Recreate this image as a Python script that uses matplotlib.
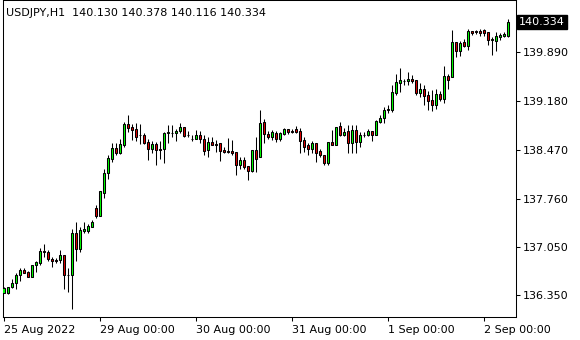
import numpy as np
import matplotlib
matplotlib.use('Agg')
import matplotlib.pyplot as plt

# USDJPY H1 candles, one entry per hourly bar
opens = [136.390, 136.382, 136.469, 136.527, 136.644, 136.721, 136.692, 136.615, 136.789, 136.827,
         136.993, 136.983, 136.885, 136.866, 136.866, 136.935, 136.648, 136.644, 137.255, 137.031,
         137.293, 137.293, 137.351, 137.623, 137.507, 137.846, 138.128, 138.341, 138.497, 138.420,
         138.545, 138.846, 138.798, 138.769, 138.690, 138.690, 138.584, 138.487, 138.555, 138.487,
         138.478, 138.711, 138.711, 138.711, 138.740, 138.798, 138.690, 138.632, 138.632, 138.682,
         138.623, 138.468, 138.584, 138.555, 138.565, 138.468, 138.457, 138.457, 138.439, 138.254,
         138.322, 138.235, 138.166, 138.468, 138.361, 138.875, 138.701, 138.661, 138.719, 138.623,
         138.701, 138.769, 138.749, 138.769, 138.740, 138.613, 138.536, 138.487, 138.574, 138.457,
         138.399, 138.278, 138.584, 138.545, 138.817, 138.690, 138.749, 138.565, 138.759, 138.584,
         138.690, 138.682, 138.740, 138.690, 138.875, 138.933, 139.054, 139.050, 139.302, 139.447,
         139.472, 139.468, 139.497, 139.487, 139.302, 139.351, 139.264, 139.195, 139.118, 139.283,
         139.206, 139.545, 139.526, 140.040, 139.913, 140.040, 139.981, 140.204, 140.200, 140.204,
         140.214, 140.185, 140.069, 140.059, 140.117, 140.127, 140.130]
highs = [136.478, 136.478, 136.586, 136.682, 136.750, 136.750, 136.702, 136.794, 136.856, 137.041,
         137.099, 137.012, 136.915, 136.896, 137.012, 136.939, 136.750, 137.322, 137.420, 137.342,
         137.420, 137.391, 137.449, 137.663, 137.875, 138.187, 138.391, 138.565, 138.574, 138.623,
         138.875, 138.973, 138.846, 138.856, 138.846, 138.711, 138.623, 138.594, 138.584, 138.594,
         138.730, 138.836, 138.836, 138.778, 138.856, 138.802, 138.740, 138.682, 138.759, 138.749,
         138.686, 138.653, 138.653, 138.613, 138.574, 138.516, 138.642, 138.613, 138.439, 138.361,
         138.361, 138.235, 138.468, 138.653, 139.050, 138.923, 138.740, 138.759, 138.740, 138.730,
         138.788, 138.778, 138.778, 138.817, 138.788, 138.653, 138.574, 138.603, 138.574, 138.487,
         138.399, 138.584, 138.759, 138.807, 138.875, 138.788, 138.827, 138.827, 138.827, 138.730,
         138.730, 138.769, 138.740, 138.904, 138.977, 139.094, 139.123, 139.409, 139.574, 139.661,
         139.505, 139.603, 139.555, 139.487, 139.439, 139.418, 139.322, 139.341, 139.351, 139.322,
         139.690, 139.574, 140.214, 140.040, 140.050, 140.079, 140.225, 140.204, 140.214, 140.225,
         140.233, 140.185, 140.108, 140.185, 140.166, 140.185, 140.378]
lows = [136.386, 136.372, 136.466, 136.449, 136.565, 136.677, 136.612, 136.612, 136.692, 136.798,
        136.915, 136.856, 136.769, 136.827, 136.827, 136.449, 136.401, 136.158, 136.856, 136.983,
        137.255, 137.255, 137.342, 137.478, 137.500, 137.769, 138.050, 138.293, 138.391, 138.409,
        138.516, 138.730, 138.613, 138.603, 138.555, 138.555, 138.322, 138.428, 138.245, 138.341,
        138.283, 138.565, 138.661, 138.603, 138.711, 138.661, 138.653, 138.594, 138.623, 138.574,
        138.395, 138.361, 138.536, 138.439, 138.312, 138.428, 138.420, 138.399, 138.099, 138.195,
        138.187, 138.031, 138.147, 138.147, 138.361, 138.574, 138.623, 138.613, 138.584, 138.594,
        138.690, 138.701, 138.711, 138.719, 138.420, 138.439, 138.391, 138.420, 138.293, 138.370,
        138.245, 138.245, 138.545, 138.545, 138.671, 138.671, 138.428, 138.428, 138.420, 138.507,
        138.653, 138.671, 138.603, 138.682, 138.856, 138.856, 139.002, 139.021, 139.273, 139.312,
        139.409, 139.409, 139.439, 139.273, 139.243, 139.118, 139.050, 139.031, 139.069, 139.177,
        139.147, 139.360, 139.526, 139.817, 139.836, 139.971, 139.923, 140.137, 140.156, 140.127,
        140.127, 139.996, 139.846, 139.913, 140.069, 140.108, 140.116]
closes = [136.452, 136.469, 136.527, 136.644, 136.721, 136.682, 136.615, 136.789, 136.837, 136.993,
          136.979, 136.877, 136.848, 136.852, 136.935, 136.644, 136.655, 137.255, 137.031, 137.303,
          137.313, 137.361, 137.420, 137.507, 137.866, 138.137, 138.351, 138.497, 138.428, 138.555,
          138.846, 138.788, 138.759, 138.661, 138.682, 138.565, 138.478, 138.555, 138.468, 138.472,
          138.711, 138.725, 138.719, 138.740, 138.798, 138.671, 138.682, 138.623, 138.682, 138.623,
          138.460, 138.584, 138.545, 138.545, 138.457, 138.439, 138.439, 138.420, 138.245, 138.322,
          138.225, 138.166, 138.468, 138.332, 138.865, 138.701, 138.661, 138.730, 138.623, 138.711,
          138.778, 138.730, 138.734, 138.730, 138.603, 138.516, 138.487, 138.574, 138.428, 138.391,
          138.278, 138.584, 138.545, 138.798, 138.693, 138.730, 138.565, 138.759, 138.584, 138.690,
          138.682, 138.740, 138.690, 138.890, 138.929, 139.054, 139.060, 139.312, 139.457, 139.487,
          139.479, 139.505, 139.476, 139.302, 139.351, 139.254, 139.185, 139.118, 139.283, 139.206,
          139.545, 139.487, 140.040, 139.913, 140.030, 139.981, 140.204, 140.175, 140.190, 140.175,
          140.166, 140.069, 140.079, 140.127, 140.137, 140.156, 140.334]

date_ticks = [0, 24, 48, 72, 96, 120]
date_labels = ['25 Aug 2022', '29 Aug 00:00', '30 Aug 00:00', '31 Aug 00:00', '1 Sep 00:00', '2 Sep 00:00']
price_ticks = [139.890, 139.180, 138.470, 137.760, 137.050, 136.350]
header = 'USDJPY,H1  140.130 140.378 140.116 140.334'
last_price = closes[-1]

plt.rcParams['font.family'] = 'DejaVu Sans'
plt.rcParams['font.size'] = 8

fig = plt.figure(figsize=(5.8, 3.4), dpi=100)
ax = fig.add_axes([2.7 / 580, 23.5 / 340, 513.3 / 580, 316.5 / 340])

o = np.array(opens)
h = np.array(highs)
l = np.array(lows)
c = np.array(closes)
x = np.arange(len(o))
bull = c >= o
colors = np.where(bull, '#00ff00', '#e00000')

# wicks then bodies
ax.vlines(x, l, h, color='black', linewidth=0.75, zorder=2)
ax.bar(x, c - o, bottom=o, width=0.5, color=colors, edgecolor='black',
       linewidth=0.75, zorder=3)

ax.set_xlim(-0.2, 128.1)
ax.set_ylim(136.044, 140.651)

ax.set_xticks(date_ticks)
ax.set_xticklabels(date_labels)
for lbl in ax.get_xticklabels():
    lbl.set_ha('left')
ax.tick_params(axis='x', direction='out', length=3, width=0.75, pad=3, labelsize=8)

ax.yaxis.tick_right()
ax.set_yticks(price_ticks)
ax.set_yticklabels(['%.3f' % p for p in price_ticks])
ax.tick_params(axis='y', direction='out', length=3, width=0.75, pad=2, labelsize=8)

for sp in ax.spines.values():
    sp.set_linewidth(0.75)
    sp.set_color('black')

# header and current price box
fig.text(6 / 580, 1 - 12.5 / 340, header, fontsize=8, va='center', ha='left', color='black')
ax.text(1.006, last_price, '%.3f' % last_price, transform=ax.get_yaxis_transform(),
        color='white', fontsize=8, va='center', ha='left',
        bbox=dict(boxstyle='square,pad=0.2', fc='black', ec='black'))

fig.savefig('out.png', dpi=100)
